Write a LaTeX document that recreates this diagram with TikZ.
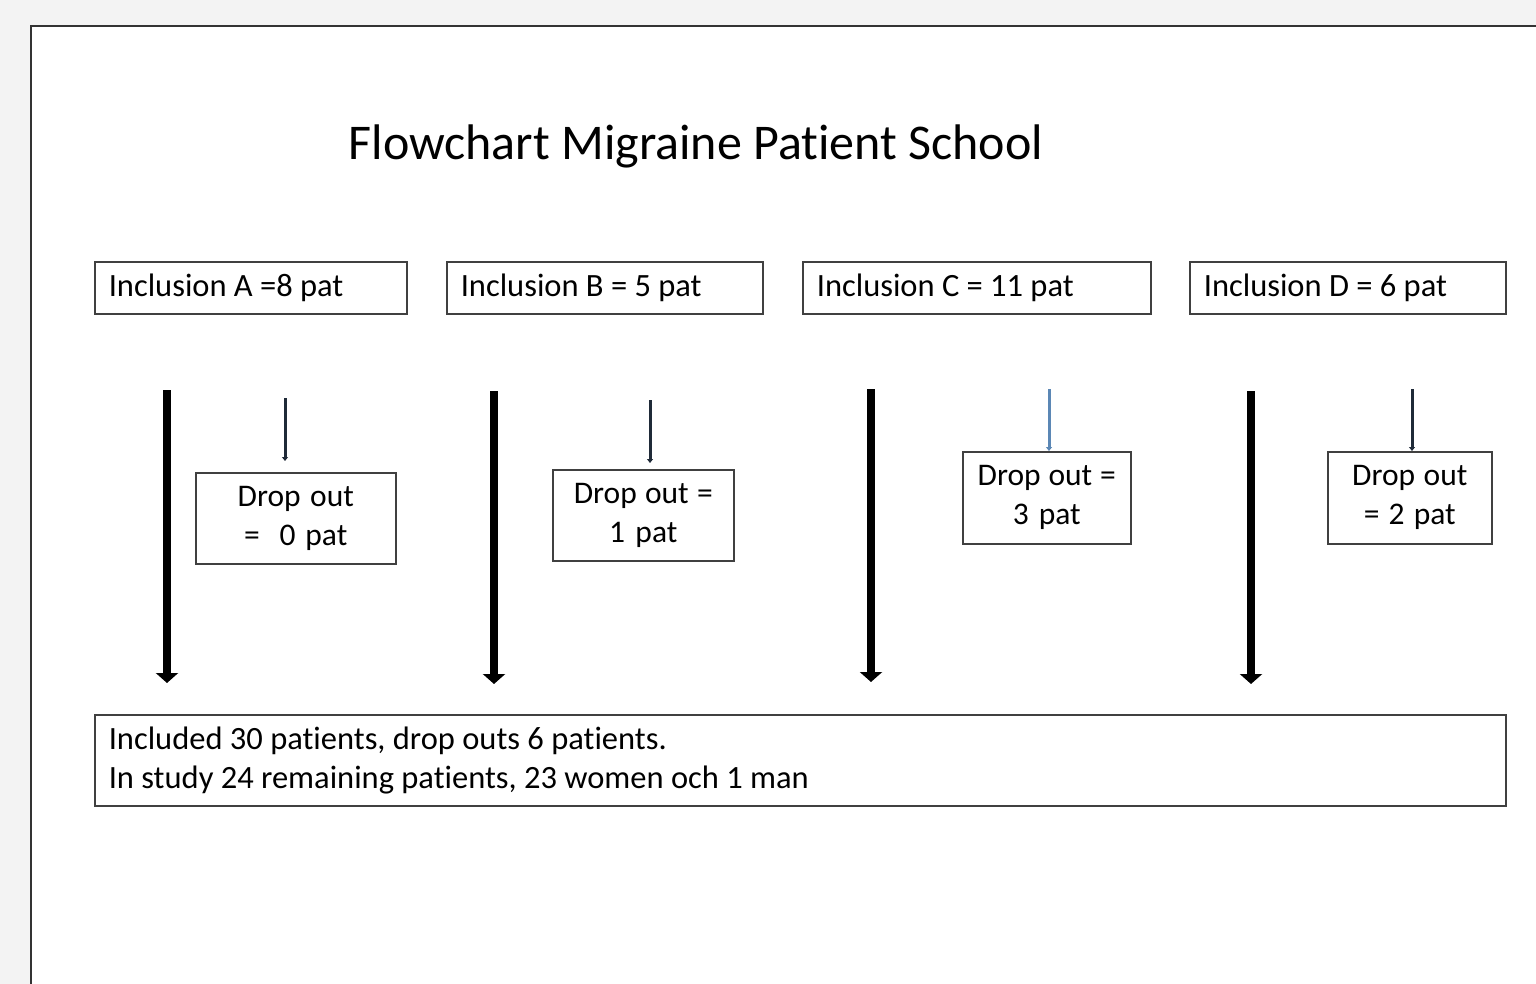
\documentclass[tikz,border=0pt]{standalone}
\usepackage{fontspec}
\setmainfont{Carlito}[Ligatures=NoCommon]
\usetikzlibrary{arrows.meta}
\definecolor{bggray}{HTML}{F3F3F3}
\definecolor{boxline}{HTML}{404040}
\definecolor{thinnavy}{HTML}{1F2A38}
\definecolor{thinblue}{HTML}{5B87B5}
\tikzset{
  natspace/.style={execute at begin node={\spaceskip=0pt\xspaceskip=0pt\relax}},
  incbox/.style={draw=boxline, line width=1.6pt, minimum height=52pt, inner sep=0pt, anchor=north west, align=left, natspace, font=\fontsize{32.5}{36}\selectfont},
  dropbox/.style={draw=boxline, line width=1.6pt, inner sep=0pt, anchor=north west, align=center, natspace, font=\fontsize{31.5}{39}\selectfont},
  thickarrow/.style={line width=8pt, -{Triangle[width=22pt,length=10pt]}},
  thinarrow/.style={line width=3pt, color=thinnavy, -{Triangle[width=6pt,length=4pt]}},
}
\begin{document}
\begin{tikzpicture}[x=1pt,y=-1pt]
\useasboundingbox (0,0) rectangle (1536,984);
\fill[bggray] (0,0) rectangle (1536,984);
\draw[fill=white, draw=black!80, line width=2pt] (31,26) rectangle (1600,1050);

\node[anchor=base, font=\fontsize{50}{60}\selectfont] (title) at (696,160) {Flowchart Migraine Patient School};

% inclusion boxes
\node[incbox, minimum width=312pt, text width=284pt] (incA) at (94,261) {Inclusion A =8 pat};
\node[incbox, minimum width=316pt, text width=288pt] (incB) at (446,261) {Inclusion B = 5 pat};
\node[incbox, minimum width=348pt, text width=320pt] (incC) at (802,261) {Inclusion C = 11 pat};
\node[incbox, minimum width=316pt, text width=288pt] (incD) at (1189,261) {Inclusion D = 6 pat};

% drop-out boxes
\node[dropbox, minimum width=200pt, minimum height=91pt, text width=200pt] (dropA) at (195,472) {Drop out\\=\ \ 0 pat};
\node[dropbox, minimum width=181pt, minimum height=91pt, text width=181pt] (dropB) at (552,469) {Drop out =\\1 pat};
\node[dropbox, minimum width=168pt, minimum height=92pt, text width=168pt] (dropC) at (962,451) {Drop out =\\3 pat};
\node[dropbox, minimum width=164pt, minimum height=92pt, text width=164pt] (dropD) at (1327,451) {Drop out\\= 2 pat};

% result box
\node[draw=boxline, line width=1.6pt, anchor=north west, minimum width=1411pt, minimum height=91pt, text width=1383pt, inner sep=0pt, align=left, natspace, font=\fontsize{32.5}{39}\selectfont] (result) at (94,714) {Included 30 patients, drop outs 6 patients.\\In study 24 remaining patients, 23 women och 1 man};

% coordinates for arrows
\coordinate (aS) at (167,390); \coordinate (aE) at (167,683);
\coordinate (bS) at (494,391); \coordinate (bE) at (494,684);
\coordinate (cS) at (871,389); \coordinate (cE) at (871,682);
\coordinate (dS) at (1251,391); \coordinate (dE) at (1251,684);
\coordinate (taS) at (285,398);
\coordinate (tbS) at (650,400);
\coordinate (tcS) at (1049,389);
\coordinate (tdS) at (1412,389);

\draw[thickarrow] (aS) -- (aE);
\draw[thickarrow] (bS) -- (bE);
\draw[thickarrow] (cS) -- (cE);
\draw[thickarrow] (dS) -- (dE);

\draw[thinarrow, shorten >=11pt] (taS) -- (taS |- dropA.north);
\draw[thinarrow, shorten >=6pt] (tbS) -- (tbS |- dropB.north);
\draw[thinarrow, color=thinblue] (tcS) -- (tcS |- dropC.north);
\draw[thinarrow] (tdS) -- (tdS |- dropD.north);
\end{tikzpicture}
\end{document}
